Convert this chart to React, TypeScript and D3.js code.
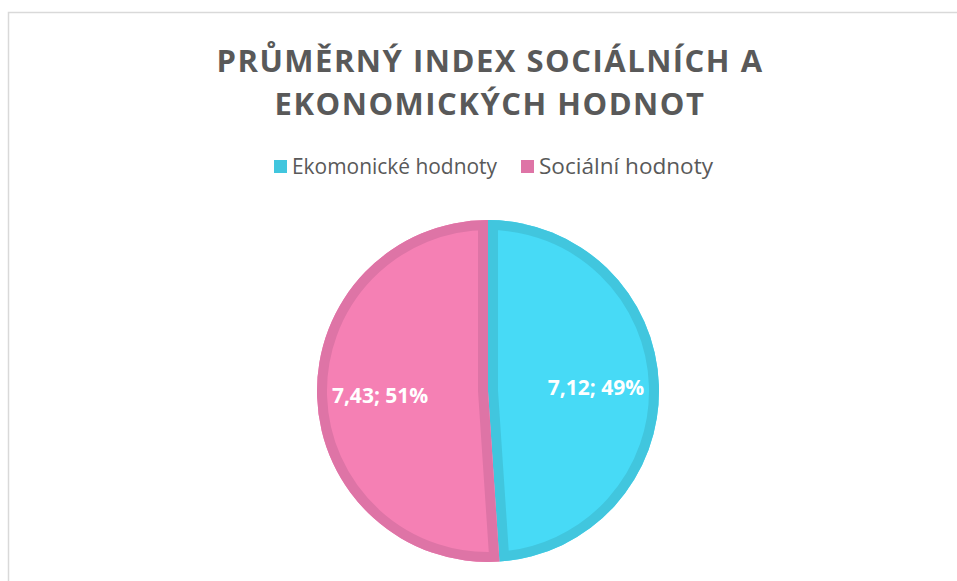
import * as d3 from "d3";

const categories = ["Ekomonické hodnoty", "Sociální hodnoty"];
const values = [7.12, 7.43];
const percentLabels = ["49%", "51%"];
const fills = ["#47DAF6", "#F580B4"];
const borders = ["#41C6DE", "#DE74A6"];

const titleLines = ["PRŮMĚRNÝ INDEX SOCIÁLNÍCH A", "EKONOMICKÝCH HODNOT"];

export default function App() {
  const width = 957;
  const height = 581;
  const cx = 488;
  const cy = 391;
  const radius = 171;

  const pie = d3
    .pie<number>()
    .sort(null)
    .value((d) => d);
  const arcs = pie(values);

  const arc = d3.arc<d3.PieArcDatum<number>>().innerRadius(0).outerRadius(radius);
  const labelArc = d3
    .arc<d3.PieArcDatum<number>>()
    .innerRadius(108)
    .outerRadius(108);

  const font = "'Open Sans', 'DejaVu Sans', sans-serif";

  // legend positions and widths (px)
  const legendX = [274, 521];
  const legendW = [205, 174];

  return (
    <svg
      width={width}
      height={height}
      style={{ position: "absolute", left: 0, top: 0 }}
    >
      <rect x={0} y={0} width={width} height={height} fill="#fff" />
      {/* chart area border */}
      <rect
        x={8.5}
        y={12.5}
        width={width + 20}
        height={height + 20}
        fill="none"
        stroke="#D9D9D9"
        strokeWidth={1.5}
      />

      {/* title */}
      {titleLines.map((t, i) => (
        <text
          key={t}
          x={490}
          y={72 + i * 43}
          textAnchor="middle"
          fontFamily={font}
          fontWeight="bold"
          fontSize={31}
          fill="#595959"
          letterSpacing={1.5}
        >
          {t}
        </text>
      ))}

      {/* legend */}
      {categories.map((c, i) => {
        const lx = legendX[i];
        return (
          <g key={c}>
            <rect x={lx} y={160} width={13} height={13} fill={borders[i]} />
            <text
              x={lx + 18}
              y={174}
              fontFamily={font}
              fontSize={21}
              fill="#595959"
              textLength={legendW[i]}
              lengthAdjust="spacingAndGlyphs"
            >
              {c}
            </text>
          </g>
        );
      })}

      {/* pie */}
      <defs>
        {arcs.map((a, i) => (
          <clipPath id={`slice-${i}`} key={i}>
            <path d={arc(a) || ""} />
          </clipPath>
        ))}
      </defs>
      <g transform={`translate(${cx},${cy})`}>
        {arcs.map((a, i) => (
          <g key={i}>
            <path d={arc(a) || ""} fill={fills[i]} />
            <path
              d={arc(a) || ""}
              fill="none"
              stroke={borders[i]}
              strokeWidth={20}
              clipPath={`url(#slice-${i})`}
            />
          </g>
        ))}
        {arcs.map((a, i) => {
          const [x, y] = labelArc.centroid(a);
          return (
            <text
              key={`l${i}`}
              x={x}
              y={y}
              textAnchor="middle"
              dominantBaseline="central"
              fontFamily={font}
              fontWeight="bold"
              fontSize={21}
              fill="#fff"
            >
              {`${d3.format(".2f")(values[i]).replace(".", ",")}; ${percentLabels[i]}`}
            </text>
          );
        })}
      </g>
    </svg>
  );
}
